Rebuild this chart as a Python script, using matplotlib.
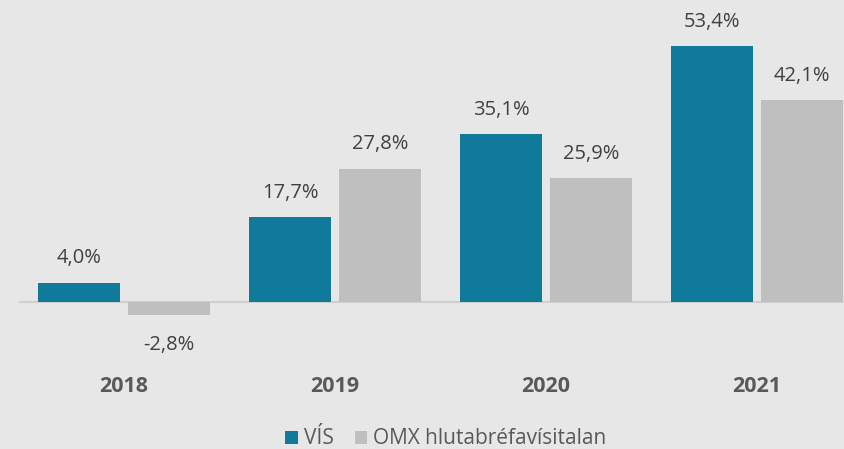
import numpy as np
import matplotlib.pyplot as plt

years = ['2018', '2019', '2020', '2021']
vis = [4.0, 17.7, 35.1, 53.4]
omx = [-2.8, 27.8, 25.9, 42.1]
series_names = ['VÍS', 'OMX hlutabréfavísitalan']
colors = ['#0f7a9a', '#bfbfbf']
bg = '#e7e7e7'

plt.rcParams['font.family'] = ['Open Sans', 'DejaVu Sans']

fig = plt.figure(figsize=(8.44, 4.49), dpi=100, facecolor=bg)
ax = fig.add_axes([18.5 / 844, (449 - 330.7) / 449, 844 / 844, 330.5 / 449])
ax.set_facecolor(bg)

x = np.arange(len(years))
w = 0.385
off = 0.213
b1 = ax.bar(x - off, vis, w, color=colors[0], label=series_names[0])
b2 = ax.bar(x + off, omx, w, color=colors[1], label=series_names[1])

def fmt(v):
    return f'{v:.1f}%'.replace('.', ',')

for bars, vals in ((b1, vis), (b2, omx)):
    for rect, v in zip(bars, vals):
        cx = rect.get_x() + rect.get_width() / 2
        dy = 17.5 if v >= 0 else -21
        ax.annotate(fmt(v), (cx, v), xytext=(0, dy), textcoords='offset points',
                    ha='center', va='center', fontsize=14.5, color='#404040')

ax.axhline(0, color='#d0d0d0', lw=1.5, zorder=0)
ax.set_xlim(-0.5, 3.5)
ax.set_ylim(-6, 63)
for s in ax.spines.values():
    s.set_visible(False)
ax.set_yticks([])
ax.set_xticks([])

for i, yr in enumerate(years):
    fig.text((18.5 + 211 * (i + 0.5)) / 844, 1 - 386 / 449, yr, ha='center', va='center',
             fontsize=15.5, fontweight='bold', color='#595959')

leg = fig.legend(handles=[b1, b2], loc='center', bbox_to_anchor=(446 / 844, 1 - 439 / 449),
                 ncol=2, frameon=False, fontsize=15, handlelength=0.6, handleheight=0.6,
                 handletextpad=0.3, columnspacing=1.0)
for t in leg.get_texts():
    t.set_color('#595959')

fig.savefig('out.png', dpi=100, facecolor=bg)
